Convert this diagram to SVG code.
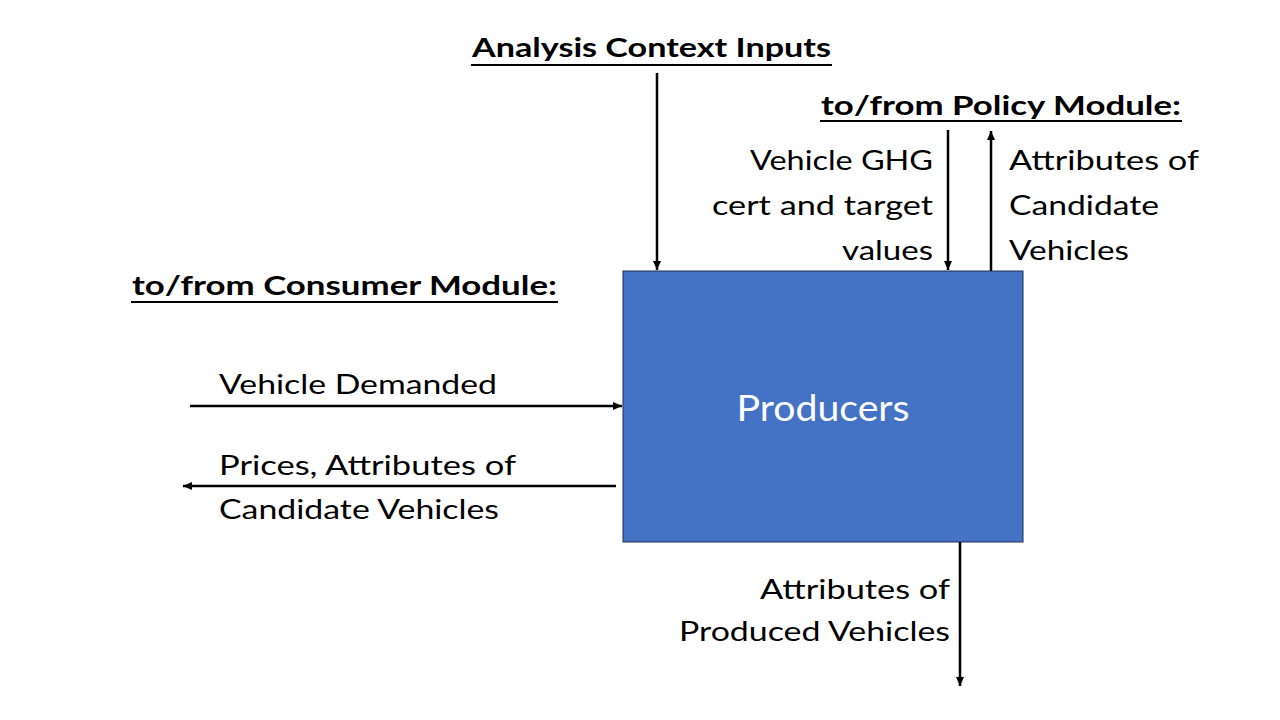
<svg xmlns="http://www.w3.org/2000/svg" width="1280" height="720" viewBox="0 0 1280 720">
<style>
text{font-family:Lato,"Open Sans","Liberation Sans",sans-serif;fill:#000;font-size:27px}
.b{font-weight:bold}
.r{text-anchor:end}
.ul{stroke:#000;stroke-width:2}
.c{stroke:#000;stroke-width:2.5;fill:none;marker-end:url(#ah)}
</style>
<defs>
<marker id="ah" markerUnits="userSpaceOnUse" markerWidth="10" markerHeight="8" refX="9" refY="4" orient="auto">
<path d="M0,0 L9,4 L0,8 Z" fill="#000"/>
</marker>
</defs>
<rect width="1280" height="720" fill="#fff"/>
<g id="producers">
<rect x="623" y="271" width="400" height="271" fill="#4472C4" stroke="#1F2F4F" stroke-width="1"/>
<text x="823" y="421" text-anchor="middle" style="font-size:37px;fill:#fff" textLength="173" lengthAdjust="spacingAndGlyphs">Producers</text>
</g>
<g id="analysis-context">
<text class="b" x="472" y="57" textLength="359" lengthAdjust="spacingAndGlyphs">Analysis Context Inputs</text>
<line class="ul" x1="471" y1="65" x2="832" y2="65"/>
</g>
<g id="policy-module">
<text class="b" x="821" y="115" textLength="360" lengthAdjust="spacingAndGlyphs">to/from Policy Module:</text>
<line class="ul" x1="820" y1="121" x2="1182" y2="121"/>
</g>
<g id="consumer-module">
<text class="b" x="132" y="295" textLength="425" lengthAdjust="spacingAndGlyphs">to/from Consumer Module:</text>
<line class="ul" x1="131" y1="302" x2="558" y2="302"/>
</g>
<g id="connectors">
<line class="c" x1="657" y1="73" x2="657" y2="270"/>
<line class="c" x1="948" y1="130" x2="948" y2="270"/>
<line class="c" x1="991" y1="271" x2="991" y2="131"/>
<line class="c" x1="190" y1="406" x2="622" y2="406"/>
<line class="c" x1="616" y1="486" x2="183" y2="486"/>
<line class="c" x1="960" y1="542" x2="960" y2="686"/>
</g>
<g id="labels">
<text class="r" x="933" y="170" textLength="183" lengthAdjust="spacingAndGlyphs">Vehicle GHG</text>
<text class="r" x="933" y="215" textLength="221" lengthAdjust="spacingAndGlyphs">cert and target</text>
<text class="r" x="933" y="260" textLength="91" lengthAdjust="spacingAndGlyphs">values</text>
<text x="1009" y="170" textLength="190" lengthAdjust="spacingAndGlyphs">Attributes of</text>
<text x="1009" y="215" textLength="150" lengthAdjust="spacingAndGlyphs">Candidate</text>
<text x="1009" y="260" textLength="120" lengthAdjust="spacingAndGlyphs">Vehicles</text>
<text x="219" y="394" textLength="278" lengthAdjust="spacingAndGlyphs">Vehicle Demanded</text>
<text x="219" y="475" textLength="297" lengthAdjust="spacingAndGlyphs">Prices, Attributes of</text>
<text x="219" y="519" textLength="280" lengthAdjust="spacingAndGlyphs">Candidate Vehicles</text>
<text class="r" x="950" y="599" textLength="190" lengthAdjust="spacingAndGlyphs">Attributes of</text>
<text class="r" x="950" y="641" textLength="271" lengthAdjust="spacingAndGlyphs">Produced Vehicles</text>
</g>
</svg>
